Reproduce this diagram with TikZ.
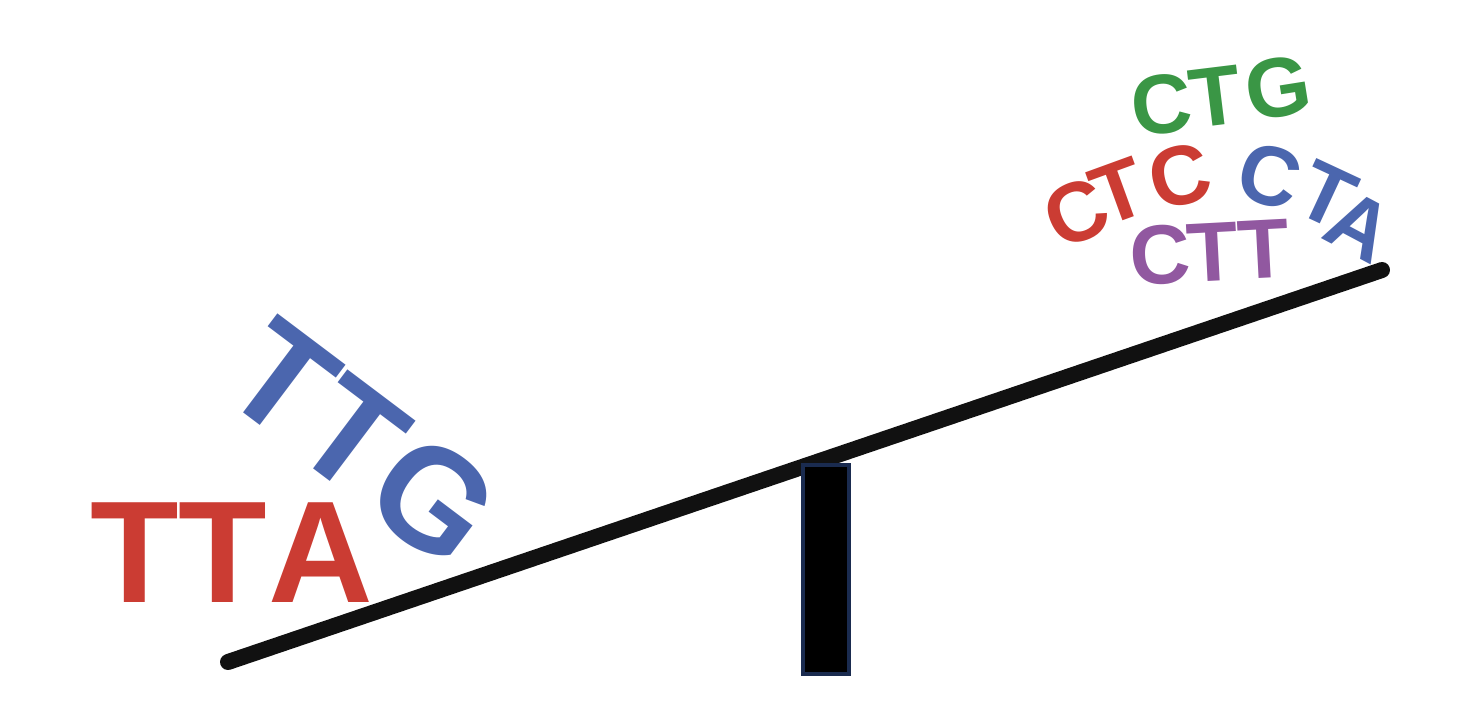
\documentclass[tikz,border=0pt]{standalone}
\usepackage{fontspec}
\setmainfont{Liberation Sans}[Kerning=Off]
\definecolor{cred}{HTML}{CB3C33}
\definecolor{cblue}{HTML}{4B66AE}
\definecolor{cgreen}{HTML}{3A9645}
\definecolor{cpurple}{HTML}{9158A0}
\definecolor{beamc}{HTML}{111111}
\definecolor{navy}{HTML}{1A2B4F}
\begin{document}
\begin{tikzpicture}[x=1pt,y=-1pt,
  letter/.style={anchor=center,inner sep=0pt,outer sep=0pt,font=\fontsize{#1}{#1}\selectfont\bfseries},
  big/.style={letter=145},
  small/.style={letter=84}]
\useasboundingbox (0,0) rectangle (1475,728);
\coordinate (bl) at (228,662);
\coordinate (br) at (1382,270);
\draw[beamc,line width=16pt,line cap=round] (bl) -- (br);
\node[draw=navy,fill=black,line width=4pt,minimum width=46pt,minimum height=209pt,inner sep=0pt,anchor=north west] (fulcrum) at (801,463) {};
% TTA
\node[big,text=cred] (tta1) at (134.5,552.5) {T};
\node[big,text=cred] (tta2) at (222.5,552.5) {T};
\node[big,text=cred] (tta3) at (320.5,552.5) {A};
% TTG
\node[big,text=cblue,rotate=-37] (ttg1) at (282,379) {T};
\node[big,text=cblue,rotate=-37] (ttg2) at (352,435) {T};
\node[big,text=cblue,rotate=-37] (ttg3) at (434,500) {G};
% CTG
\node[small,text=cgreen,rotate=6] (ctg1) at (1162,105) {C};
\node[small,text=cgreen,rotate=7] (ctg2) at (1215,97) {T};
\node[small,text=cgreen,rotate=9] (ctg3) at (1278,88) {G};
% CTC
\node[small,text=cred,rotate=24] (ctc1) at (1076,213) {C};
\node[small,text=cred,rotate=20] (ctc2) at (1119,192) {T};
\node[small,text=cred,rotate=14] (ctc3) at (1180,176) {C};
% CTA
\node[small,text=cblue,rotate=-16] (cta1) at (1270,176) {C};
\node[small,text=cblue,rotate=-25] (cta2) at (1327,195) {T};
\node[small,text=cblue,rotate=-28] (cta3) at (1360,226) {A};
% CTT
\node[small,text=cpurple,rotate=3] (ctt1) at (1160,255) {C};
\node[small,text=cpurple,rotate=3] (ctt2) at (1213,252) {T};
\node[small,text=cpurple,rotate=3] (ctt3) at (1264,249) {T};
\end{tikzpicture}
\end{document}
